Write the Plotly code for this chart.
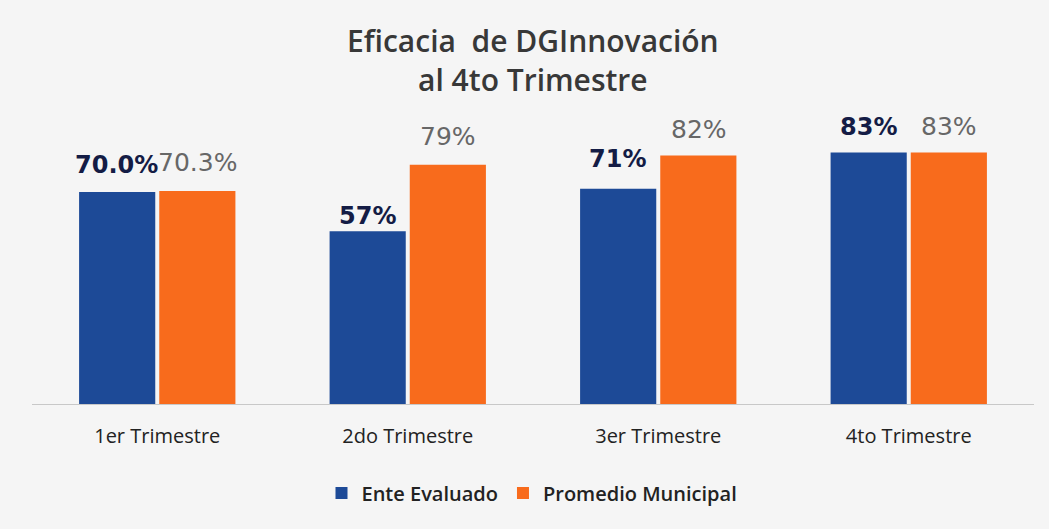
import plotly.graph_objects as go

categories = ["1er Trimestre", "2do Trimestre", "3er Trimestre", "4to Trimestre"]
ente_values = [70.0, 57, 71, 83]
ente_labels = ["70.0%", "57%", "71%", "83%"]
promedio_values = [70.3, 79, 82, 83]
promedio_labels = ["70.3%", "79%", "82%", "83%"]

BLUE = "#1d4a97"
ORANGE = "#f86b1c"
label_lift_ente = [27, 15, 30, 26]
label_lift_prom = [28, 28, 26, 26]

fig = go.Figure()
fig.add_trace(go.Bar(x=categories, y=ente_values, name="Ente Evaluado",
                     marker=dict(color=BLUE, line=dict(width=0))))
fig.add_trace(go.Bar(x=categories, y=promedio_values, name="Promedio Municipal",
                     marker=dict(color=ORANGE, line=dict(width=0))))

for c, v, t, s in zip(categories, ente_values, ente_labels, label_lift_ente):
    fig.add_annotation(x=c, y=v, text=t, showarrow=False, xshift=-40.5, yshift=s,
                       yanchor="middle",
                       font=dict(family="DejaVu Sans", size=24, color="#141c45", weight="bold"))
for c, v, t, s in zip(categories, promedio_values, promedio_labels, label_lift_prom):
    fig.add_annotation(x=c, y=v, text=t, showarrow=False, xshift=40.5, yshift=s,
                       yanchor="middle",
                       font=dict(family="DejaVu Sans", size=25, color="#676767"))

fig.add_annotation(xref="paper", yref="paper", x=0.5, y=1.135, xanchor="center", yanchor="middle",
                   text="Eficacia  de DGInnovación<br>al 4to Trimestre", showarrow=False,
                   font=dict(family="Open Sans", size=30, color="#383838", weight=600))

fig.update_layout(
    width=1049, height=529,
    paper_bgcolor="#f5f5f5", plot_bgcolor="rgba(0,0,0,0)",
    margin=dict(l=32, r=15, t=101, b=125),
    barmode="group", bargap=0.36, bargroupgap=0.05,
    showlegend=True,
    legend=dict(orientation="h", x=0.499, xanchor="center", y=-0.294, yanchor="middle",
                font=dict(family="Open Sans", size=20, color="#222222", weight=600),
                itemwidth=30, traceorder="normal"),
)
fig.update_xaxes(showline=True, linecolor="#c8c8c8", linewidth=1, ticks="",
                 tickfont=dict(family="Open Sans", size=20, color="#222222"),
                 ticklabelstandoff=14, showgrid=False)
fig.update_yaxes(range=[0, 100], visible=False, showgrid=False)

fig.write_html("out.html", config={"displayModeBar": False},
               post_script="document.body.style.margin='0';")
